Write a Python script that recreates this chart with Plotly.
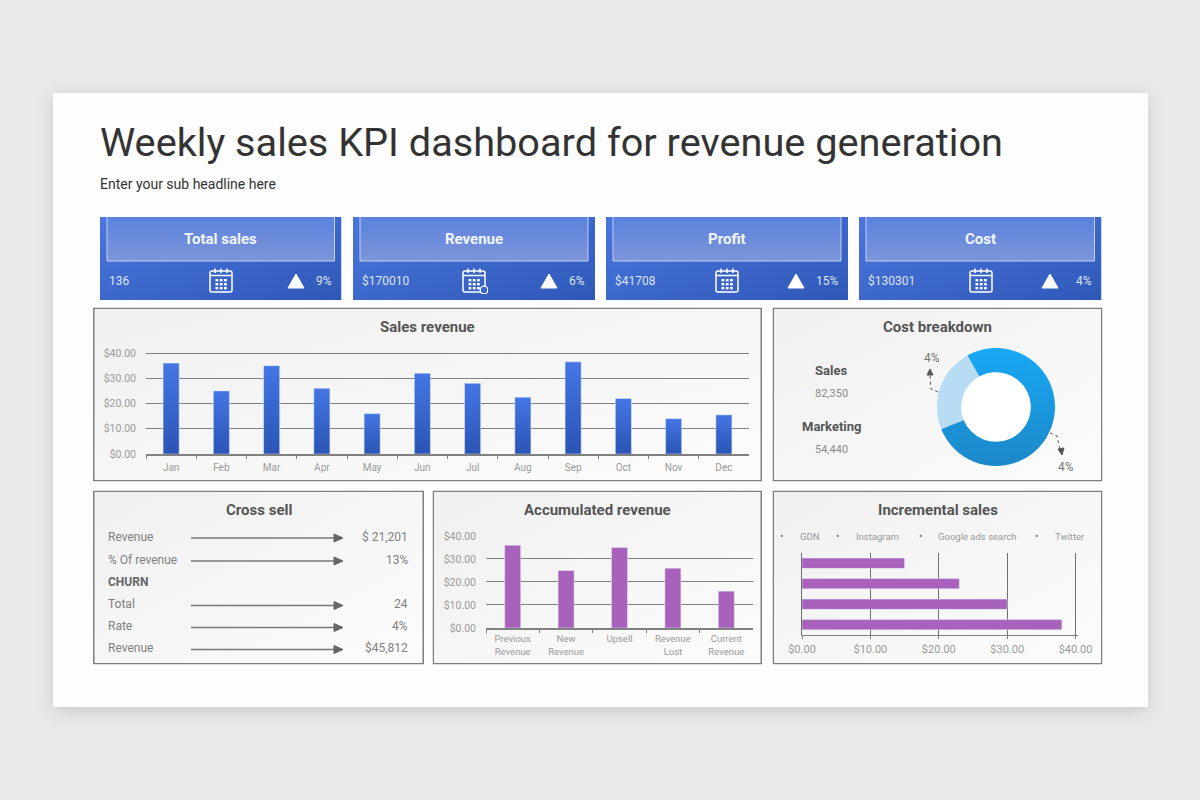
import base64
import plotly.graph_objects as go

# chart values
months = ["Jan", "Feb", "Mar", "Apr", "May", "Jun", "Jul", "Aug", "Sep", "Oct", "Nov", "Dec"]
sales_revenue = [36, 25, 35, 26, 16, 32, 28, 22.5, 36.5, 22, 14, 15.5]
accum_labels = ["Previous<br>Revenue", "New<br>Revenue", "Upsell", "Revenue<br>Lost", "Current<br>Revenue"]
accum_revenue = [36, 25, 35, 26, 16]
channels = ["GDN", "Instagram", "Google ads search", "Twitter"]
incremental = [15, 23, 30, 38]
donut_labels = ["Sales", "Marketing"]
donut_values = [77, 23]
card_titles = ["Total sales", "Revenue", "Profit", "Cost"]
card_values = ["136", "$170010", "$41708", "$130301"]
card_changes = ["9%", "6%", "15%", "4%"]
cross_labels = ["Revenue", "% Of revenue", "CHURN", "Total", "Rate", "Revenue"]
cross_values = ["$ 21,201", "13%", "", "24", "4%", "$45,812"]
money_ticks = [0, 10, 20, 30, 40]
money_labels = ["$0.00", "$10.00", "$20.00", "$30.00", "$40.00"]

FONT = "Roboto"
BLUE = "#3565cf"
PURPLE = "#a962bb"
GRID = "#808080"
TICK = "#9a9a9a"
DARK = "#555555"


def px(x):
    return x / 1200


def py(y):
    return 1 - y / 800


def svg_uri(svg):
    return "data:image/svg+xml;base64," + base64.b64encode(svg.encode()).decode()


images = []
shapes = []
notes = []


def add_image(svg, x0, y0, x1, y1):
    images.append(dict(source=svg_uri(svg), xref="paper", yref="paper", x=px(x0), y=py(y0),
                       sizex=(x1 - x0) / 1200, sizey=(y1 - y0) / 800, sizing="stretch",
                       xanchor="left", yanchor="top", layer="below"))


def gradient_box(x0, y0, x1, y1, c1, c2, direction='x1="0" y1="0" x2="0" y2="1"', stroke=None, sw=1):
    w, h = x1 - x0, y1 - y0
    line = f'stroke="{stroke}" stroke-width="{sw}"' if stroke else ""
    inset = sw / 2 if stroke else 0
    svg = (f'<svg xmlns="http://www.w3.org/2000/svg" width="{w}" height="{h}" viewBox="0 0 {w} {h}" preserveAspectRatio="none">'
           f'<defs><linearGradient id="g" {direction}><stop offset="0" stop-color="{c1}"/>'
           f'<stop offset="1" stop-color="{c2}"/></linearGradient></defs>'
           f'<rect x="{inset}" y="{inset}" width="{w - 2 * inset}" height="{h - 2 * inset}" fill="url(#g)" {line}/></svg>')
    add_image(svg, x0, y0, x1, y1)


def text(x, y, s, size=12, color=DARK, bold=False, anchor="center"):
    notes.append(dict(text=f"<b>{s}</b>" if bold else s, x=px(x), y=py(y), xref="paper", yref="paper",
                      xanchor=anchor, yanchor="middle", showarrow=False, borderpad=0, borderwidth=0,
                      font=dict(family=FONT, size=size, color=color)))


def path(points, color, width=1, dash="solid", fill=None, close=False):
    d = "M " + " L ".join(f"{px(a)},{py(b)}" for a, b in points) + (" Z" if close else "")
    shapes.append(dict(type="path", path=d, xref="paper", yref="paper", fillcolor=fill,
                       line=dict(color=color, width=width, dash=dash)))


def calendar(x0, y0, size, clock=False):
    parts = ['<rect x="3" y="5" width="22" height="21" rx="2" fill="none" stroke="#fff" stroke-width="1.5"/>',
             '<path d="M3 9.5H25M8 2.5V7M14 2.5V7M20 2.5V7" stroke="#fff" stroke-width="1.5"/>']
    for row in (13, 17, 21):
        for col in (8.5, 12.8, 17):
            parts.append(f'<rect x="{col}" y="{row}" width="2.8" height="2.4" fill="#fff"/>')
    if clock:
        parts.append('<circle cx="24" cy="24" r="3.8" fill="#3a66c8" stroke="#fff" stroke-width="1.3"/>')
    svg = ('<svg xmlns="http://www.w3.org/2000/svg" width="28" height="28" viewBox="0 0 28 28">'
           + "".join(parts) + "</svg>")
    add_image(svg, x0, y0, x0 + size, y0 + size)


# slide with soft shadow
shadow = ('<svg xmlns="http://www.w3.org/2000/svg" width="1200" height="800" viewBox="0 0 1200 800">'
          '<defs><filter id="b" x="-10%" y="-10%" width="120%" height="120%"><feGaussianBlur stdDeviation="9"/></filter></defs>'
          '<rect x="55" y="98" width="1091" height="612" fill="#000" fill-opacity="0.16" filter="url(#b)"/>'
          '<rect x="53" y="93" width="1095" height="614" fill="#fdfdfd"/></svg>')
add_image(shadow, 0, 0, 1200, 800)

text(100, 142, "Weekly sales KPI dashboard for revenue generation", size=39.7, color="#333333", anchor="left")
text(100, 183.5, "Enter your sub headline here", size=14, color="#333333", anchor="left")

# KPI cards
card_left = [100, 353, 606, 859]
card_right = [341.5, 595, 848, 1101.5]
tri_x = [296, 549, 796, 1050]
icon_x = [207, 460, 713, 967]
for i in range(4):
    x0, x1 = card_left[i], card_right[i]
    gradient_box(x0, 217, x1, 300, "#4a76de", "#2f59b8", 'x1="0" y1="0" x2="1" y2="1"')
    gradient_box(x0 + 7, 217, x1 - 7, 261, "#5a82de", "#7d95d8")
    path([(x0 + 7, 217), (x0 + 7, 261), (x1 - 7, 261), (x1 - 7, 217)], "#c3d0f0", width=1)
    text((x0 + x1) / 2, 239, card_titles[i], size=15, color="#f2f5fc", bold=True)
    text(x0 + 9, 281, card_values[i], size=12, color="#dde5f8", anchor="left")
    text(x1 - 10, 281, card_changes[i], size=12, color="#dde5f8", anchor="right")
    path([(tri_x[i] - 8, 288), (tri_x[i] + 8, 288), (tri_x[i], 274)], "#ffffff", fill="#ffffff", close=True)
    calendar(icon_x[i], 266, 28, clock=i == 1)

# panels
panels = [(93, 307.5, 762, 481.5, "Sales revenue"), (772.5, 307.5, 1102.5, 481.5, "Cost breakdown"),
          (93, 490.5, 424, 664.5, "Cross sell"), (432.5, 490.5, 762, 664.5, "Accumulated revenue"),
          (772.5, 490.5, 1102.5, 664.5, "Incremental sales")]
for x0, y0, x1, y1, title in panels:
    gradient_box(x0, y0, x1, y1, "#f0f0f0", "#fcfcfc", 'x1="0" y1="0" x2="1" y2="1"', stroke="#7f7f7f", sw=1.5)
    text((x0 + x1) / 2, y0 + 19, title, size=15, color=DARK, bold=True)

# white disc seen through the donut hole
shapes.append(dict(type="circle", xref="paper", yref="paper", x0=px(996 - 36), x1=px(996 + 36), y0=py(407 + 36),
                   y1=py(407 - 36), fillcolor="#ffffff", line=dict(width=0), layer="below"))

# cost breakdown text and dashed callouts
text(831, 370.5, "Sales", size=13, color=DARK, bold=True)
text(831, 393, "82,350", size=11, color="#8a8a8a")
text(831.5, 427, "Marketing", size=13, color=DARK, bold=True)
text(831.5, 449.5, "54,440", size=11, color="#8a8a8a")
text(932, 358, "4%", size=12, color="#777777")
text(1066, 467, "4%", size=12, color="#777777")
path([(938, 392), (931, 389), (930, 375)], "#555555", width=1, dash="dot")
path([(927, 375), (933, 375), (930, 369)], "#555555", fill="#555555", close=True)
path([(1050, 433), (1057, 436), (1060, 449)], "#555555", width=1, dash="dot")
path([(1058, 449), (1064, 448), (1062, 455)], "#555555", fill="#555555", close=True)

# cross sell rows
row_y = [536.5, 559.5, 582, 604, 626, 648]
for i in range(6):
    is_head = cross_values[i] == ""
    text(108, row_y[i], cross_labels[i], size=12, color="#666666" if is_head else "#808080",
         bold=is_head, anchor="left")
    if not is_head:
        text(408, row_y[i], cross_values[i], size=12, color="#808080", anchor="right")
        y = row_y[i] + 1.5
        path([(191, y), (336, y)], "#777777", width=1.5)
        path([(334, y - 4), (343, y), (334, y + 4)], "#666666", fill="#666666", close=True)

# incremental sales legend
dot_x = [781, 837, 920, 1036]
label_x = [809, 877, 977, 1070]
for i in range(4):
    text(dot_x[i], 536.5, "•", size=10, color="#777777")
    text(label_x[i], 536.5, channels[i], size=9.5, color="#999999")

fig = go.Figure()
fig.add_trace(go.Bar(x=months, y=sales_revenue, marker=dict(color=BLUE), xaxis="x", yaxis="y", showlegend=False))
fig.add_trace(go.Bar(x=accum_labels, y=accum_revenue, marker=dict(color=PURPLE), width=0.3, xaxis="x2", yaxis="y2",
                     showlegend=False))
fig.add_trace(go.Bar(x=incremental, y=channels, orientation="h", marker=dict(color=PURPLE), width=0.5, xaxis="x3",
                     yaxis="y3", showlegend=False))
fig.add_trace(go.Pie(labels=donut_labels, values=donut_values, hole=0.59, sort=False, direction="clockwise",
                     rotation=331, textinfo="none", showlegend=False,
                     marker=dict(colors=["#1aa5f0", "#b8dcf4"], line=dict(width=0)),
                     domain=dict(x=[px(996 - 59), px(996 + 59)], y=[py(407 + 59), py(407 - 59)])))

# range runs a touch past 40 so plotly keeps the top gridline
cat_x = dict(showgrid=False, showline=True, linecolor=GRID, linewidth=1.5, ticks="outside", ticklen=3,
             tickcolor=GRID, tickson="boundaries", ticklabelstandoff=3,
             tickfont=dict(family=FONT, size=10, color=TICK), fixedrange=True)
val_y = dict(range=[0, 40.4], tickvals=money_ticks, ticktext=money_labels, showgrid=True, gridcolor=GRID, gridwidth=1.2,
             zeroline=False, showline=False, ticks="", ticklabelstandoff=9,
             tickfont=dict(family=FONT, size=10.5, color=TICK), fixedrange=True)

fig.update_layout(
    width=1200, height=800, margin=dict(l=0, r=0, t=0, b=0, autoexpand=False), autosize=False,
    paper_bgcolor="#e9e8ea", plot_bgcolor="rgba(0,0,0,0)", bargap=0.68,
    images=images, shapes=shapes, annotations=notes, font=dict(family=FONT),
    xaxis=dict(cat_x, domain=[px(146), px(749)], anchor="y"),
    yaxis=dict(val_y, domain=[py(454), py(352)], anchor="x"),
    xaxis2=dict(cat_x, domain=[px(486), px(753)], anchor="y2", ticklabelstandoff=1,
                tickfont=dict(family=FONT, size=9.5, color=TICK)),
    yaxis2=dict(val_y, domain=[py(628), py(535)], anchor="x2"),
    xaxis3=dict(range=[0, 40.4], tickvals=money_ticks, ticktext=money_labels, domain=[px(802), px(1078.3)], anchor="y3",
                showgrid=True, gridcolor="#6f6f6f", gridwidth=1.2, zeroline=False, showline=True, linecolor=GRID,
                linewidth=1.2, ticks="outside", ticklen=3, tickcolor=GRID, ticklabelstandoff=1,
                tickfont=dict(family=FONT, size=11, color=TICK), fixedrange=True),
    yaxis3=dict(domain=[py(635), py(553)], anchor="x3", autorange="reversed", showticklabels=False, ticks="",
                showgrid=False, showline=True, linecolor="#6f6f6f", linewidth=1.2, fixedrange=True),
)

# plotly has no gradient fill for bars or slices, so set it on the drawn svg
post = """
document.body.style.margin='0';
document.documentElement.style.overflow='hidden';
var svg=document.querySelector('.main-svg');
var ns='http://www.w3.org/2000/svg';
function grad(id,c1,c2){
  var g=document.createElementNS(ns,'linearGradient');
  g.setAttribute('id',id);g.setAttribute('x1','0');g.setAttribute('y1','0');g.setAttribute('x2','0');g.setAttribute('y2','1');
  [[0,c1],[1,c2]].forEach(function(s){var t=document.createElementNS(ns,'stop');t.setAttribute('offset',s[0]);t.setAttribute('stop-color',s[1]);g.appendChild(t);});
  svg.appendChild(g);
}
grad('barblue','#4476e4','#2a54b4');
grad('donutblue','#19a8f5','#1c88c8');
document.querySelectorAll('.barlayer .trace')[0].querySelectorAll('.point path').forEach(function(p){p.style.fill='url(#barblue)';});
document.querySelectorAll('.pielayer .slice path.surface')[0].style.fill='url(#donutblue)';
"""
fig.write_html("out.html", config=dict(displayModeBar=False), post_script=post)
